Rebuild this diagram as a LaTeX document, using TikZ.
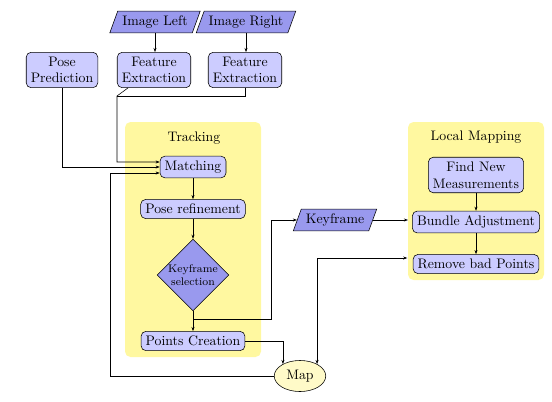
\documentclass[tikz,border=0pt]{standalone}
\usetikzlibrary{shapes.geometric,arrows.meta,calc}
\definecolor{boxc}{RGB}{204,204,255}
\definecolor{parc}{RGB}{153,153,238}
\definecolor{contc}{RGB}{255,248,160}
\definecolor{mapc}{RGB}{255,250,200}
\begin{document}
\begin{tikzpicture}[x=0.7246pt,y=-0.7246pt,
 proc/.style={draw,rounded corners=3.5pt,fill=boxc,align=center},
 io/.style={draw,trapezium,trapezium left angle=70,trapezium right angle=110,trapezium stretches=true,fill=parc,minimum height=14.5pt},
 dec/.style={draw,diamond,fill=parc,align=center,font=\footnotesize,minimum width=52pt,minimum height=52pt,inner sep=0pt},
 cont/.style={fill=contc,rounded corners=4pt},
 arr/.style={-{Stealth[length=3pt,width=2.2pt]}},
 darr/.style={{Stealth[length=3pt,width=2.2pt]}-{Stealth[length=3pt,width=2.2pt]}},
 ]
\useasboundingbox (0,0) rectangle (552,401);
\fill[cont] (125,122) rectangle (261,357);
\fill[cont] (408,122) rectangle (544,280);
\node (trk) at (194,138) {Tracking};
\node (lmt) at (476,137) {Local Mapping};

\node[io] (il) at (155,22) {Image Left};
\node[io] (ir) at (246,22) {Image Right};
\node[proc] (pp) at (62,70) {Pose\\Prediction};
\node[proc] (fe1) at (154,70) {Feature\\Extraction};
\node[proc] (fe2) at (245,70) {Feature\\Extraction};
\node[proc] (mt) at (193,167) {Matching};
\node[proc,minimum width=75pt] (pr) at (193,209) {Pose refinement};
\node[dec] (ks) at (193,275) {Keyframe\\selection};
\node[proc,minimum width=75pt] (pc) at (193,341) {Points Creation};
\node[draw,ellipse,fill=mapc,minimum width=37pt,minimum height=22.5pt] (map) at (300,376) {Map};
\node[io] (kf) at (335,220) {Keyframe};
\node[proc] (fnm) at (476,175) {Find New\\Measurements};
\node[proc] (ba) at (476,222) {Bundle Adjustment};
\node[proc] (rbp) at (476,264) {Remove bad Points};

\coordinate (j) at (117,96);
\coordinate (mleft) at (110,0);
\coordinate (kc) at (271,0);

\draw[arr] (il.south) -- (il.south |- fe1.north);
\draw[arr] (ir.south) -- (ir.south |- fe2.north);
\draw[arr] ($(fe1.south west)+(11,0)$) -- (j) |- ($(mt.west)+(0,-5)$);
\draw (fe2.south) |- (j);
\draw[arr] (pp.south) |- (mt.west);
\draw[arr] (map.west) -- (map.west -| mleft) |- ($(mt.west)+(0,6)$);
\draw[arr] (mt.south) -- (pr.north);
\draw[arr] (pr.south) -- (ks.north);
\draw[arr] (ks.south) -- (pc.north);
\coordinate (br) at ($(ks.south)!0.4!(pc.north)$);
\draw[arr] (br) -- (br -| kc) |- (kf.west);
\draw[arr,shorten >=3pt] (kf.east) -- (kf.east -| ba.west);
\draw[arr] (fnm.south) -- (fnm.south |- ba.north);
\draw[arr] (ba.south) -- (rbp.north);
\draw[darr,shorten >=4pt] (map.35) |- ($(rbp.west)+(0,-6)$);
\draw[arr] (pc.east) -| (map.145);
\end{tikzpicture}
\end{document}
